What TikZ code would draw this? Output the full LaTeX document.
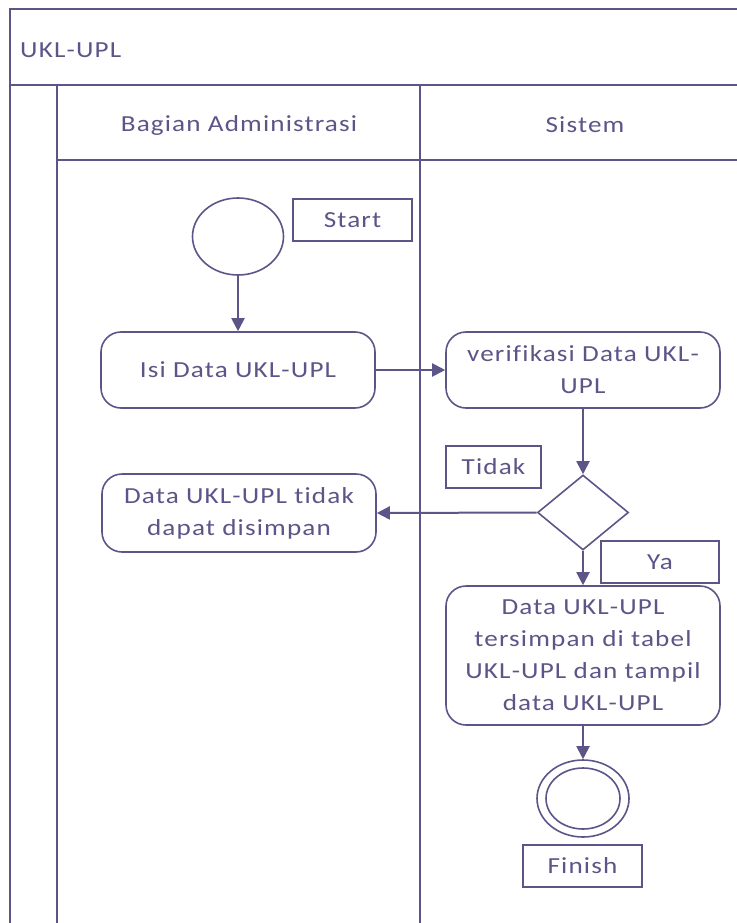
\documentclass[tikz,border=0pt]{standalone}
\usepackage{fontspec}
\setmainfont{Carlito}[FakeStretch=1.18,LetterSpace=5,Ligatures=NoCommon]
\usetikzlibrary{shapes.geometric,arrows.meta}
\definecolor{ink}{RGB}{92,86,136}
\tikzset{
  lane/.style={draw=ink,line width=2pt},
  act/.style={draw=ink,line width=1.6pt,rounded corners=20pt,minimum width=274pt,
    inner sep=0pt,align=center,text=ink,font=\fontsize{23}{32}\selectfont},
  tag/.style={draw=ink,line width=1.6pt,inner sep=0pt,text=ink,
    font=\fontsize{23}{26}\selectfont,minimum height=42pt},
  flow/.style={draw=ink,line width=2pt,-{Triangle[width=13pt,length=13pt]}},
  txt/.style={text=ink,font=\fontsize{23}{26}\selectfont,inner sep=0pt},
  startnode/.style={draw=ink,line width=1.6pt,ellipse,minimum width=91pt,minimum height=77pt,inner sep=0pt},
  decision/.style={draw=ink,line width=1.6pt,diamond,minimum width=91pt,minimum height=75pt,inner sep=0pt},
}
\begin{document}
\begin{tikzpicture}[x=1pt,y=-1pt]
\useasboundingbox (0,0) rectangle (736,923);
\fill[white] (0,0) rectangle (736,923);

% pool and lane frame
\draw[lane] (10,923) -- (10,9) -- (737,9);
\draw[lane] (10,85) -- (737,85);
\draw[lane] (57,85) -- (57,923);
\draw[lane] (420,85) -- (420,923);
\draw[lane] (57,160) -- (737,160);

\node[txt,anchor=west] (pool) at (20,50) {UKL-UPL};
\node[txt] (laneA) at (239,125) {Bagian Administrasi};
\node[txt] (laneB) at (585,125) {Sistem};

% activities
\node[startnode] (start) at (238,236.5) {};
\node[tag,minimum width=119pt] (startlbl) at (352.5,220) {Start};
\node[act,minimum height=76pt] (isi) at (238,370) {Isi Data UKL-UPL};
\node[act,minimum height=76pt] (verif) at (583,370) {verifikasi Data UKL-\\UPL};
\node[decision] (dec) at (583,512.5) {};
\node[tag,minimum width=95pt] (tidak) at (493.5,467) {Tidak};
\node[act,minimum height=78pt] (gagal) at (239,513) {Data UKL-UPL tidak\\dapat disimpan};
\node[tag,minimum width=118pt] (ya) at (660,562) {Ya};
\node[act,minimum height=139pt] (simpan) at (583,655.5) {Data UKL-UPL\\tersimpan di tabel\\UKL-UPL dan tampil\\data UKL-UPL};
\node[startnode,minimum width=92pt,minimum height=77pt] (finish) at (583,798.5) {};
\node[draw=ink,line width=1.6pt,ellipse,minimum width=74pt,minimum height=61pt,inner sep=0pt] (finishin) at (583,798.5) {};
\node[tag,minimum width=119pt] (finishlbl) at (582.5,866) {Finish};

% control flow
\draw[flow] (start.south) -- (isi.north);
\draw[flow] (isi.east) -- (verif.west);
\draw[flow] (verif.south) -- (dec.north);
\draw[flow] (dec.west) -- (gagal.east);
\draw[flow] (dec.south) -- (simpan.north);
\draw[flow] (simpan.south) -- (finish.north);
\end{tikzpicture}
\end{document}
